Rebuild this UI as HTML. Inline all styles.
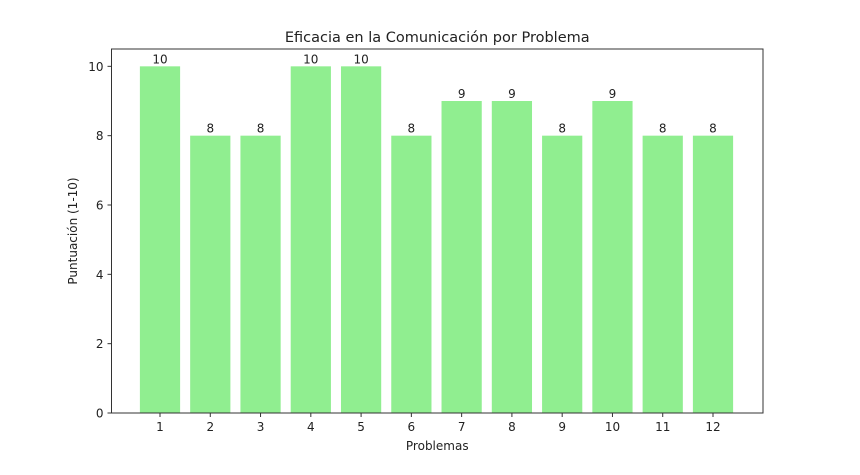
<!DOCTYPE html>
<html><head><meta charset="utf-8"><style>
body{margin:0;background:#fff;font-family:"Liberation Sans","DejaVu Sans",sans-serif;}
svg text{font-family:"DejaVu Sans","Liberation Sans",sans-serif;fill:#222;}
</style></head><body>
<svg id="c" width="860" height="470"></svg>
<script>
const categories=["1","2","3","4","5","6","7","8","9","10","11","12"];
const scores=[10,8,8,10,10,8,9,9,8,9,8,8];
const yTicks=[0,2,4,6,8,10];
const NS="http://www.w3.org/2000/svg";
const svg=document.getElementById('c');
const L=111.5,R=763,T=49,B=413,yMax=10.5;
const y=v=>B-(v/yMax)*(B-T);
const step=(713-160)/11;
const x=i=>160+i*step;
const bw=step*0.8;
function mk(tag,a,txt){const e=document.createElementNS(NS,tag);for(const k in a)e.setAttribute(k,a[k]);if(txt!==undefined)e.textContent=txt;svg.appendChild(e);return e;}
scores.forEach((v,i)=>{
 const r=mk('rect',{x:x(i)-bw/2,y:y(v),width:bw,height:B-y(v),fill:'#90ee90'});
 
 
 const t=mk('text',{x:x(i),y:y(v)-3,'text-anchor':'middle','font-size':12},String(v));
 
 
 mk('line',{x1:x(i),x2:x(i),y1:B,y2:B+4,stroke:'#333'});
 const xl=mk('text',{x:x(i),y:B+18,'text-anchor':'middle','font-size':12},categories[i]);
 
 
});
yTicks.forEach(v=>{
 mk('line',{x1:L-4,x2:L,y1:y(v),y2:y(v),stroke:'#333'});
 const t=mk('text',{x:L-8,y:y(v)+4.5,'text-anchor':'end','font-size':12},String(v));
 
 
});
const f=mk('rect',{x:L,y:T,width:R-L,height:B-T,fill:'none',stroke:'#333','stroke-width':1});


const ti=mk('text',{x:(L+R)/2,y:42,'text-anchor':'middle','font-size':14.5},'Eficacia en la Comunicación por Problema');


const xt=mk('text',{x:(L+R)/2,y:450,'text-anchor':'middle','font-size':12},'Problemas');


const yt=mk('text',{x:0,y:0,'text-anchor':'middle','font-size':12,transform:`translate(77,${(T+B)/2}) rotate(-90)`},'Puntuación (1-10)');


</script>
</body></html>
